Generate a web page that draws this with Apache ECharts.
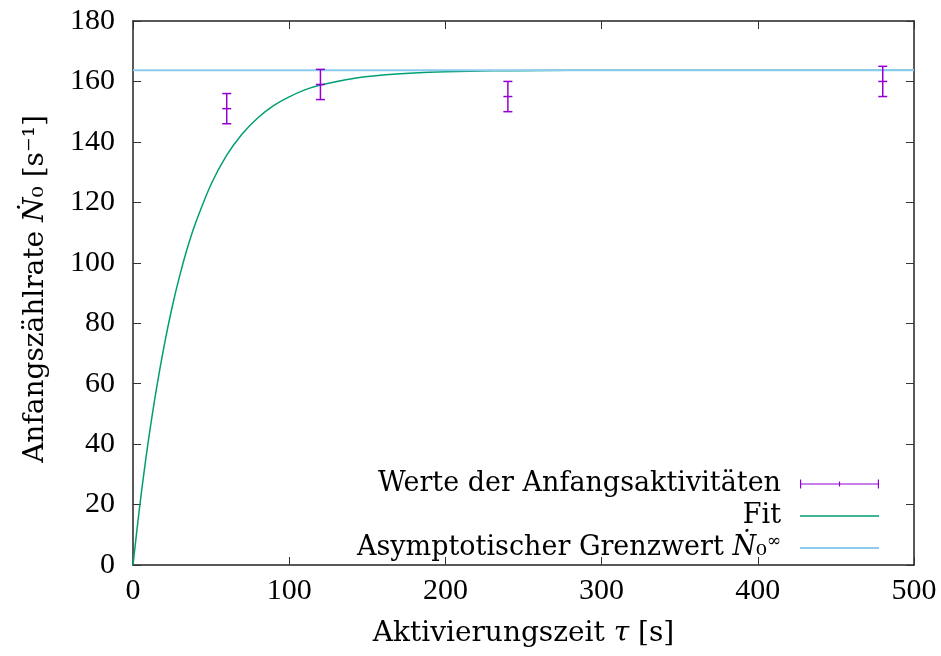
<!DOCTYPE html>
<html>
<head>
<meta charset="utf-8">
<script src="https://cdn.jsdelivr.net/npm/echarts@6.0.0/dist/echarts.min.js"></script>
<style>
  html, body { margin: 0; padding: 0; background: #fff; }
  #chart { width: 941px; height: 656px; }
</style>
</head>
<body>
<div id="chart"></div>
<script>
const tau = [60, 120, 240, 480]
const rate = [151, 159, 155, 160]
const rateErr = [5, 5, 5, 5]

const fitTau = [0, 3, 6, 10, 15, 20, 25, 30, 35, 40, 50, 60, 70, 80, 90, 100, 110, 120, 140, 160, 180, 200, 230, 260, 300, 400, 500]
const fitRate = [0, 13.8, 26.5, 41.7, 58.3, 72.7, 85.2, 95.9, 105.2, 113.1, 126.0, 135.6, 142.7, 148.0, 152.0, 154.9, 157.2, 158.8, 160.9, 162.1, 162.8, 163.2, 163.5, 163.6, 163.7, 163.7, 163.7]

// asymptotischer Grenzwert
const asymptote = 163.7
const asymTau = [0, 500]

const xTicks = {min: 0, max: 500, interval: 100}
const yTicks = {min: 0, max: 180, interval: 20}

const names = ['Werte der Anfangsaktivitäten', 'Fit', 'Asymptotischer Grenzwert']
const colors = ['#9400d3', '#009e73', '#8ccbee']

const numFont = 'Liberation Serif'
const font = 'DejaVu Serif'
const fs = 27
const frame = '#222'

const chart = echarts.init(document.getElementById('chart'))

const errorBar = (params, api) => {
  const x = api.value(0), y = api.value(1), e = api.value(2)
  const c = api.coord([x, y])
  const top = api.coord([x, y + e])
  const bot = api.coord([x, y - e])
  const h = 4.5
  const style = {stroke: colors[0], lineWidth: 1.5}
  const seg = (x1, y1, x2, y2) => ({type: 'line', shape: {x1, y1, x2, y2}, style})
  return {
    type: 'group',
    children: [
      seg(c[0], top[1], c[0], bot[1]),
      seg(c[0] - h, top[1], c[0] + h, top[1]),
      seg(c[0] - h, bot[1], c[0] + h, bot[1]),
      seg(c[0] - h, c[1], c[0] + h, c[1])
    ]
  }
}

const txt = (extra) => ({fontFamily: font, fontSize: fs, fontWeight: 'normal', color: '#000', ...extra})

const axisBase = (ticks) => ({
  type: 'value',
  min: ticks.min,
  max: ticks.max,
  interval: ticks.interval,
  splitLine: {show: false},
  axisLine: {show: true, onZero: false, lineStyle: {color: frame, width: 1.5}},
  axisTick: {show: true, inside: true, length: 8, lineStyle: {color: '#333', width: 1}},
})

chart.setOption({
  animation: false,
  backgroundColor: '#fff',
  grid: {left: 133, right: 27, top: 21, bottom: 91},
  legend: {
    orient: 'vertical',
    align: 'right',
    right: 57,
    bottom: 88,
    itemWidth: 79,
    itemHeight: 10,
    itemGap: 2,
    selectedMode: false,
    data: [
      {name: names[0], icon: 'path://M0,4h80v1.2h-80z M0,0h1.2v9.2h-1.2z M78.8,0h1.2v9.2h-1.2z M39.4,2h1.2v5.2h-1.2z'},
      {name: names[1], icon: 'path://M0,4h80v1.5h-80z'},
      {name: names[2], icon: 'path://M0,4h80v2h-80z'}
    ],
    formatter: (name) => name === names[2] ? '{t|' + name + ' }{n|Ṅ}{t|₀}{s|∞}' : name,
    textStyle: {
      ...txt({lineHeight: 30}),
      padding: [0, 14, 0, 0],
      rich: {
        t: txt({lineHeight: 30}),
        n: txt({lineHeight: 30, fontStyle: 'italic'}),
        s: txt({fontSize: 17, lineHeight: 30, verticalAlign: 'top'})
      }
    }
  },
  xAxis: [
    {
      ...axisBase(xTicks),
      position: 'bottom',
      name: 'Aktivierungszeit {it|τ} [s]',
      nameLocation: 'middle',
      nameGap: 55,
      nameTextStyle: {...txt({fontSize: 28}), rich: {it: txt({fontSize: 28, fontStyle: 'italic'})}},
      axisLabel: {fontFamily: numFont, fontSize: 30, color: '#000', margin: 11}
    },
    {
      ...axisBase(xTicks),
      position: 'top',
      axisLabel: {show: false}
    }
  ],
  yAxis: [
    {
      ...axisBase(yTicks),
      position: 'left',
      name: 'Anfangszählrate {it|Ṅ}₀ [s⁻¹]',
      nameLocation: 'middle',
      nameGap: 83,
      nameRotate: 90,
      nameTextStyle: {...txt({fontSize: 28, padding: [0, 0, 0, 8]}), rich: {it: txt({fontSize: 28, fontStyle: 'italic'})}},
      axisLabel: {fontFamily: numFont, fontSize: 30, color: '#000', margin: 18}
    },
    {
      ...axisBase(yTicks),
      position: 'right',
      axisLabel: {show: false}
    }
  ],
  series: [
    {
      name: names[0],
      type: 'custom',
      renderItem: errorBar,
      encode: {x: 0, y: 1},
      itemStyle: {color: colors[0]},
      data: tau.map((t, i) => [t, rate[i], rateErr[i]]),
      z: 4
    },
    {
      name: names[1],
      type: 'line',
      showSymbol: false,
      smooth: 0.3,
      lineStyle: {color: colors[1], width: 1.5},
      itemStyle: {color: colors[1]},
      data: fitTau.map((t, i) => [t, fitRate[i]]),
      z: 2
    },
    {
      name: names[2],
      type: 'line',
      showSymbol: false,
      lineStyle: {color: colors[2], width: 2},
      itemStyle: {color: colors[2]},
      data: asymTau.map(t => [t, asymptote]),
      z: 3
    }
  ]
})
</script>
</body>
</html>
